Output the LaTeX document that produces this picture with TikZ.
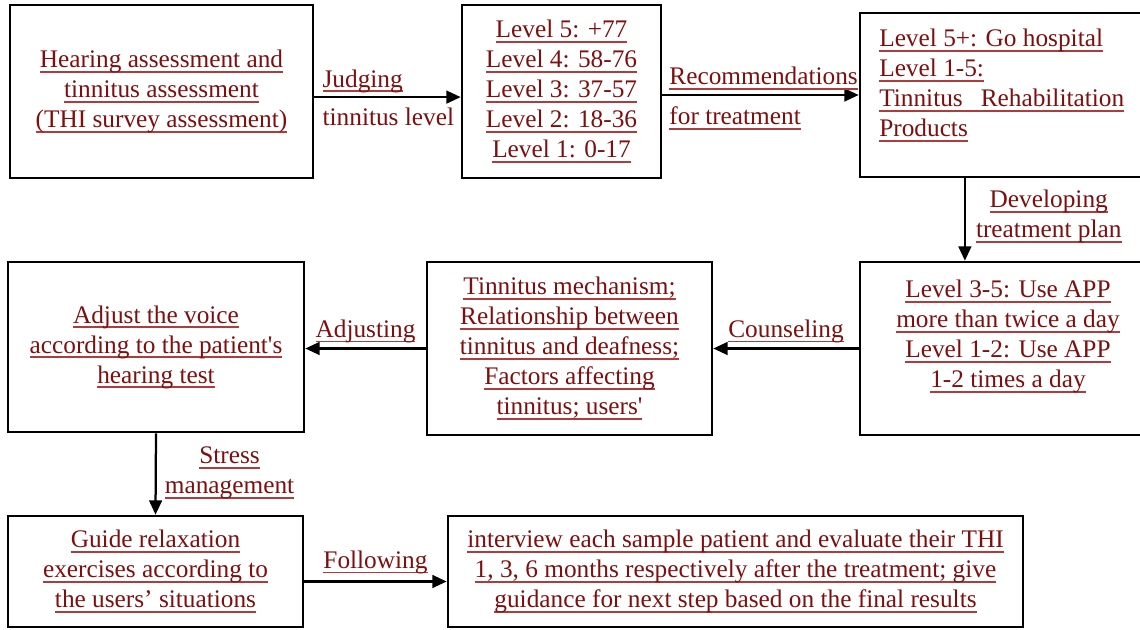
\documentclass[tikz,border=0pt]{standalone}
\usepackage{fontspec}
\setmainfont{Liberation Serif}
\usetikzlibrary{arrows.meta}
\definecolor{txtred}{RGB}{125,15,15}
\definecolor{ulred}{RGB}{175,60,60}
\newlength\ulwd
\newcommand\redul[1]{\settowidth\ulwd{#1}\rlap{\textcolor{ulred}{\rule[-3.6pt]{\ulwd}{1.2pt}}}#1}
\begin{document}
\begin{tikzpicture}[x=0.025cm,y=-0.025cm,
  box/.style={draw, line width=1.8pt, minimum height=4.325cm},
  lab/.style={text=txtred, font=\fontsize{18}{21.3}\selectfont, align=center, inner sep=0pt},
  arr/.style={line width=1.6pt, -{Triangle[length=0.36cm,width=0.32cm]}}]
\useasboundingbox (0,0) rectangle (1140,630);

% first row
\node[box, lab, minimum width=7.575cm] (assess) at (161.5,91.5) {\redul{Hearing assessment and}\\ \redul{tinnitus assessment}\\ \redul{(THI survey assessment)}};
\node[box, lab, minimum width=4.975cm] (levels) at (561.5,91.5) {\redul{Level 5: +77}\\ \redul{Level 4: 58-76}\\ \redul{Level 3: 37-57}\\ \redul{Level 2: 18-36}\\ \redul{Level 1: 0-17}};
\node[box, minimum width=7.025cm, minimum height=4.1cm] (advice) at (1000.5,95) {};
\node[lab, align=left, anchor=north west] (adviceTxt) at (879,29) {\redul{Level 5+: Go hospital}\\ \redul{Level 1-5:}\\ \redul{Tinnitus\hspace{0.45cm}Rehabilitation}\\ \redul{Products}};

% second row
\node[box, minimum width=7.025cm] (plan) at (1000.5,348.5) {};
\node[lab, anchor=north] (planTxt) at (1008,280) {\redul{Level 3-5: Use APP}\\ \redul{more than twice a day}\\ \redul{Level 1-2: Use APP}\\ \redul{1-2 times a day}};
\node[box, lab, minimum width=7.125cm] (talk) at (569.5,348.5) {\redul{Tinnitus mechanism;}\\ \redul{Relationship between}\\ \redul{tinnitus and deafness;}\\ \redul{Factors affecting}\\ \redul{tinnitus; users\textquotesingle}};
\node[box, lab, minimum width=7.4cm, minimum height=4.25cm] (voice) at (156,347) {\redul{Adjust the voice}\\ \redul{according to the patient\textquotesingle s}\\ \redul{hearing test}};

% third row
\node[box, lab, minimum width=7.375cm, minimum height=2.775cm] (relax) at (155.5,571.5) {\redul{Guide relaxation}\\ \redul{exercises according to}\\ \redul{the users’ situations}};
\node[box, lab, minimum width=14.375cm, minimum height=2.775cm] (follow) at (735.5,571.5) {\redul{interview each sample patient and evaluate their THI}\\ \redul{1, 3, 6 months respectively after the treatment; give}\\ \redul{guidance for next step based on the final results}};

% connectors
\draw[arr] ([yshift=-0.14cm]assess.east) -- ([yshift=-0.14cm]levels.west)
  node[lab, pos=0, anchor=base west, xshift=0.18cm, yshift=0.25cm] (judge) {\redul{Judging}}
  node[lab, pos=0, anchor=base west, xshift=0.18cm, yshift=-0.72cm] (judge2) {tinnitus level};
\draw[arr] (levels.east |- advice.west) -- (advice.west)
  node[lab, pos=0, anchor=base west, xshift=0.15cm, yshift=0.25cm] (recom) {\redul{Recommendations}}
  node[lab, pos=0, anchor=base west, xshift=0.15cm, yshift=-0.74cm] (recom2) {\redul{for treatment}};
\draw[arr] ([xshift=-0.89cm]advice.south) -- ([xshift=-0.89cm]plan.north)
  node[lab, midway, anchor=west, xshift=0.25cm, yshift=0.07cm] (develop) {\redul{Developing}\\ \redul{treatment plan}};
\draw[arr] (plan.west) -- (talk.east)
  node[lab, midway, anchor=base, yshift=0.28cm] (counsel) {\redul{Counseling}};
\draw[arr] (talk.west) -- (voice.east |- talk.west)
  node[lab, midway, anchor=base, yshift=0.28cm] (adjust) {\redul{Adjusting}};
\draw[arr] (voice.south) -- (relax.north)
  node[lab, midway, anchor=west, xshift=0.2cm, yshift=0.02cm] (stress) {\redul{Stress}\\ \redul{management}};
\draw[arr] ([yshift=-0.25cm]relax.east) -- ([yshift=-0.25cm]follow.west)
  node[lab, midway, anchor=base, yshift=0.33cm] (next) {\redul{Following}};
\end{tikzpicture}
\end{document}
